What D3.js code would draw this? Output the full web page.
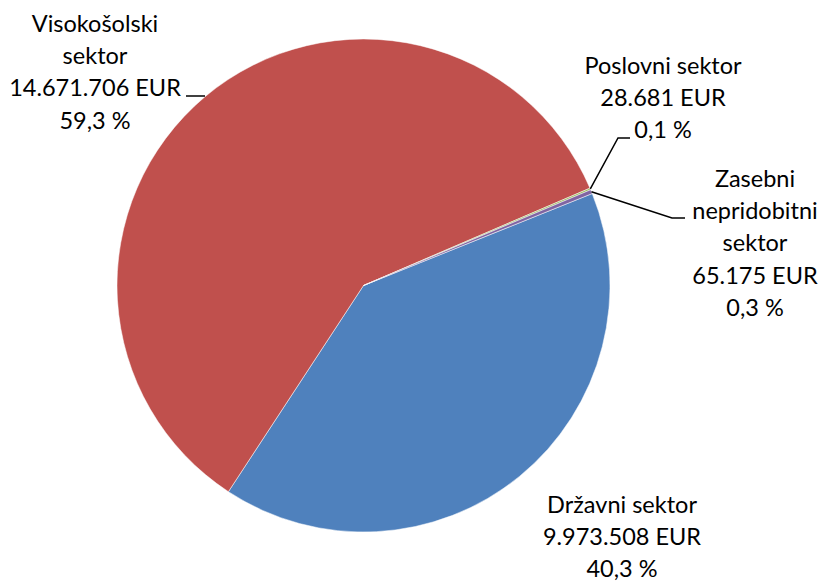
<!DOCTYPE html>
<html>
<head>
<meta charset="utf-8">
<script src="https://cdn.jsdelivr.net/npm/d3@7"></script>
<style>
  body { margin: 0; background: #fff; }
  text { font-family: Lato, "Open Sans", sans-serif; fill: #000; }
</style>
</head>
<body>
<div id="chart"></div>
<script>
// sector names (one entry per label line) and amounts
const sectors = ["Državni sektor", "Visokošolski sektor", "Poslovni sektor", "Zasebni nepridobitni sektor"];
const labelLines = [["Državni sektor"], ["Visokošolski", "sektor"], ["Poslovni sektor"], ["Zasebni", "nepridobitni", "sektor"]];
const amounts = [9973508, 14671706, 28681, 65175];
const amountLabels = ["9.973.508 EUR", "14.671.706 EUR", "28.681 EUR", "65.175 EUR"];
const percentLabels = ["40,3 %", "59,3 %", "0,1 %", "0,3 %"];
const colors = ["#4F81BD", "#C0504D", "#9BBB59", "#8064A2"];

const WIDTH = 827;
const HEIGHT = 583;
const cx = 363.5, cy = 285.5, radius = 246.5;
const START = 68.1 * Math.PI / 180;
const LINE_H = 32.2;

// label placement: center x, first baseline, leader elbow/end (null = no elbow)
const labelPos = [
  { x: 622, y: 513, leader: null },
  { x: 95, y: 32, leader: { elbow: null, end: [186, 96] } },
  { x: 663, y: 74, leader: { elbow: [618, 138], end: [630, 138] } },
  { x: 755, y: 187, leader: { elbow: [672, 218], end: [685, 218] } }
];

const data = sectors.map((s, i) => ({ name: s, value: amounts[i], i }));

const svg = d3.select("#chart").append("svg")
  .attr("width", WIDTH)
  .attr("height", HEIGHT);

const pie = d3.pie()
  .sort(null)
  .value(d => d.value)
  .startAngle(START)
  .endAngle(START + 2 * Math.PI);

const arc = d3.arc().innerRadius(0).outerRadius(radius);

const g = svg.append("g").attr("transform", `translate(${cx},${cy})`);

const arcs = pie(data);

g.selectAll("path")
  .data(arcs)
  .enter().append("path")
  .attr("d", arc)
  .attr("fill", d => colors[d.data.i])
  .attr("stroke", "#fff")
  .attr("stroke-width", 0.5);

// leader lines
arcs.forEach(a => {
  const p = labelPos[a.data.i].leader;
  if (!p) return;
  const mid = (a.startAngle + a.endAngle) / 2;
  const sx = cx + radius * Math.sin(mid);
  const sy = cy - radius * Math.cos(mid);
  let pts = [[sx, sy]];
  if (p.elbow) pts.push(p.elbow);
  pts.push(p.end);
  if (!p.elbow) pts = [[sx, p.end[1]], p.end];
  svg.append("path")
    .attr("d", d3.line()(pts))
    .attr("fill", "none")
    .attr("stroke", "#000")
    .attr("stroke-width", 1.5);
});

// labels
data.forEach(d => {
  const pos = labelPos[d.i];
  const lines = labelLines[d.i].concat([amountLabels[d.i], percentLabels[d.i]]);
  const t = svg.append("text")
    .attr("text-anchor", "middle")
    .style("font-size", "23.5px");
  lines.forEach((l, k) => {
    t.append("tspan")
      .attr("x", pos.x)
      .attr("y", pos.y + k * LINE_H)
      .text(l);
  });
});
</script>
</body>
</html>
